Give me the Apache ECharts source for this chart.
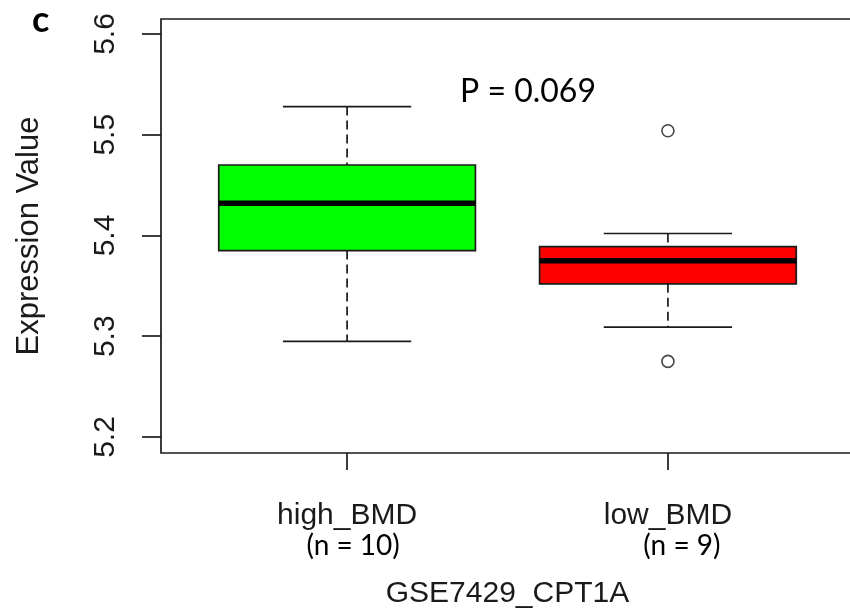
<!DOCTYPE html>
<html>
<head>
<meta charset="utf-8">
<script src="https://cdn.jsdelivr.net/npm/echarts@6/dist/echarts.min.js"></script>
<style>
  html, body { margin: 0; padding: 0; background: #fff; }
  #chart { width: 850px; height: 609px; }
</style>
</head>
<body>
<div id="chart"></div>
<script>
// Group names and sample sizes
const categories = ['high_BMD', 'low_BMD'];
const sampleCounts = [10, 9];

// Five-number summaries per group
const lowerWhisker = [5.295, 5.309];
const q1 = [5.385, 5.352];
const median = [5.432, 5.375];
const q3 = [5.470, 5.389];
const upperWhisker = [5.528, 5.402];

// Points beyond the whiskers, per group
const outliers = [[], [5.504, 5.275]];

// Box fill colours
const boxColors = ['#00FF00', '#FF0000'];

// Axis ticks
const yTicks = [5.2, 5.3, 5.4, 5.5, 5.6];
const xTicks = [1, 2];

const pValueText = 'P = 0.069';
const panelLabel = 'c';
const xTitle = 'GSE7429_CPT1A';
const yTitle = 'Expression Value';

const INK = '#1a1a1a';

const boxData = categories.map((c, i) => [
  i + 1, lowerWhisker[i], q1[i], median[i], q3[i], upperWhisker[i]
]);
const outlierData = [];
outliers.forEach((arr, i) => arr.forEach(v => outlierData.push([i + 1, v])));

function renderBox(params, api) {
  const x = api.value(0);
  const lo = api.coord([x, api.value(1)]);
  const b1 = api.coord([x, api.value(2)]);
  const md = api.coord([x, api.value(3)]);
  const b3 = api.coord([x, api.value(4)]);
  const hi = api.coord([x, api.value(5)]);
  const boxW = api.size([0.8, 0])[0];
  const capW = boxW / 2;
  const cx = lo[0];
  const fill = boxColors[params.dataIndex];
  const dashed = { stroke: INK, lineWidth: 1.7, lineDash: [9, 5] };
  const solid = { stroke: INK, lineWidth: 1.7 };
  return {
    type: 'group',
    children: [
      { type: 'line', shape: { x1: cx, y1: hi[1], x2: cx, y2: b3[1] }, style: dashed },
      { type: 'line', shape: { x1: cx, y1: b1[1], x2: cx, y2: lo[1] }, style: dashed },
      { type: 'line', shape: { x1: cx - capW / 2, y1: hi[1], x2: cx + capW / 2, y2: hi[1] }, style: solid },
      { type: 'line', shape: { x1: cx - capW / 2, y1: lo[1], x2: cx + capW / 2, y2: lo[1] }, style: solid },
      {
        type: 'rect',
        shape: { x: cx - boxW / 2, y: b3[1], width: boxW, height: b1[1] - b3[1] },
        style: { fill: fill, stroke: INK, lineWidth: 1.7 }
      },
      { type: 'line', shape: { x1: cx - boxW / 2, y1: md[1], x2: cx + boxW / 2, y2: md[1] }, style: { stroke: '#000', lineWidth: 5.5 } }
    ]
  };
}

const chart = echarts.init(document.getElementById('chart'), null, { renderer: 'canvas' });

chart.setOption({
  backgroundColor: '#ffffff',
  animation: false,
  grid: {
    left: 161, top: 19, width: 693, height: 434,
    outerBoundsMode: 'none',
    containLabel: false,
    show: true, borderColor: INK, borderWidth: 1.7, backgroundColor: 'transparent'
  },
  xAxis: {
    type: 'value',
    min: 0.42, max: 2.58,
    splitLine: { show: false },
    axisLine: { show: false },
    axisTick: { show: true, customValues: xTicks, length: 17, lineStyle: { color: INK, width: 1.7 } },
    axisLabel: {
      show: true,
      customValues: xTicks,
      margin: 48,
      formatter: function (v) {
        const i = Math.round(v) - 1;
        return '{name|' + categories[i] + '}\n{n' + i + '|(n = ' + sampleCounts[i] + ')}';
      },
      rich: {
        name: { fontFamily: 'Liberation Sans', fontSize: 30, color: INK, lineHeight: 30 },
        n0: { fontFamily: 'Lato', fontSize: 28, color: '#000', lineHeight: 30, padding: [0, 0, 0, 12] },
        n1: { fontFamily: 'Lato', fontSize: 28, color: '#000', lineHeight: 30, padding: [0, 0, 0, 28] }
      }
    },
    name: xTitle,
    nameLocation: 'middle',
    nameGap: 126,
    nameTextStyle: { fontFamily: 'Liberation Sans', fontSize: 30, color: INK }
  },
  yAxis: {
    type: 'value',
    min: 5.1841, max: 5.6149,
    splitLine: { show: false },
    axisLine: { show: false },
    axisTick: { show: true, customValues: yTicks, length: 19, lineStyle: { color: INK, width: 1.7 } },
    axisLabel: {
      show: true,
      customValues: yTicks,
      rotate: 90,
      margin: 40,
      formatter: v => v.toFixed(1),
      fontFamily: 'Liberation Sans', fontSize: 30, color: INK
    },
    name: yTitle,
    nameLocation: 'middle',
    nameRotate: 90,
    nameGap: 116,
    nameTextStyle: { fontFamily: 'Liberation Sans', fontSize: 31, color: INK }
  },
  series: [
    {
      type: 'custom',
      renderItem: renderBox,
      data: boxData,
      encode: { x: 0, y: [1, 2, 3, 4, 5] },
      z: 2
    },
    {
      type: 'scatter',
      data: outlierData,
      symbol: 'circle',
      symbolSize: 12,
      itemStyle: { color: '#fff', borderColor: INK, borderWidth: 1.6 },
      z: 3
    }
  ],
  graphic: [
    {
      type: 'text', x: 32, y: 2,
      style: { text: panelLabel, fontFamily: 'Lato', fontWeight: 'bold', fontSize: 36, fill: '#000' }
    },
    {
      type: 'text', x: 528, y: 76,
      style: { text: pValueText, fontFamily: 'Lato', fontSize: 32, fill: '#000', align: 'center' }
    }
  ]
});
</script>
</body>
</html>
